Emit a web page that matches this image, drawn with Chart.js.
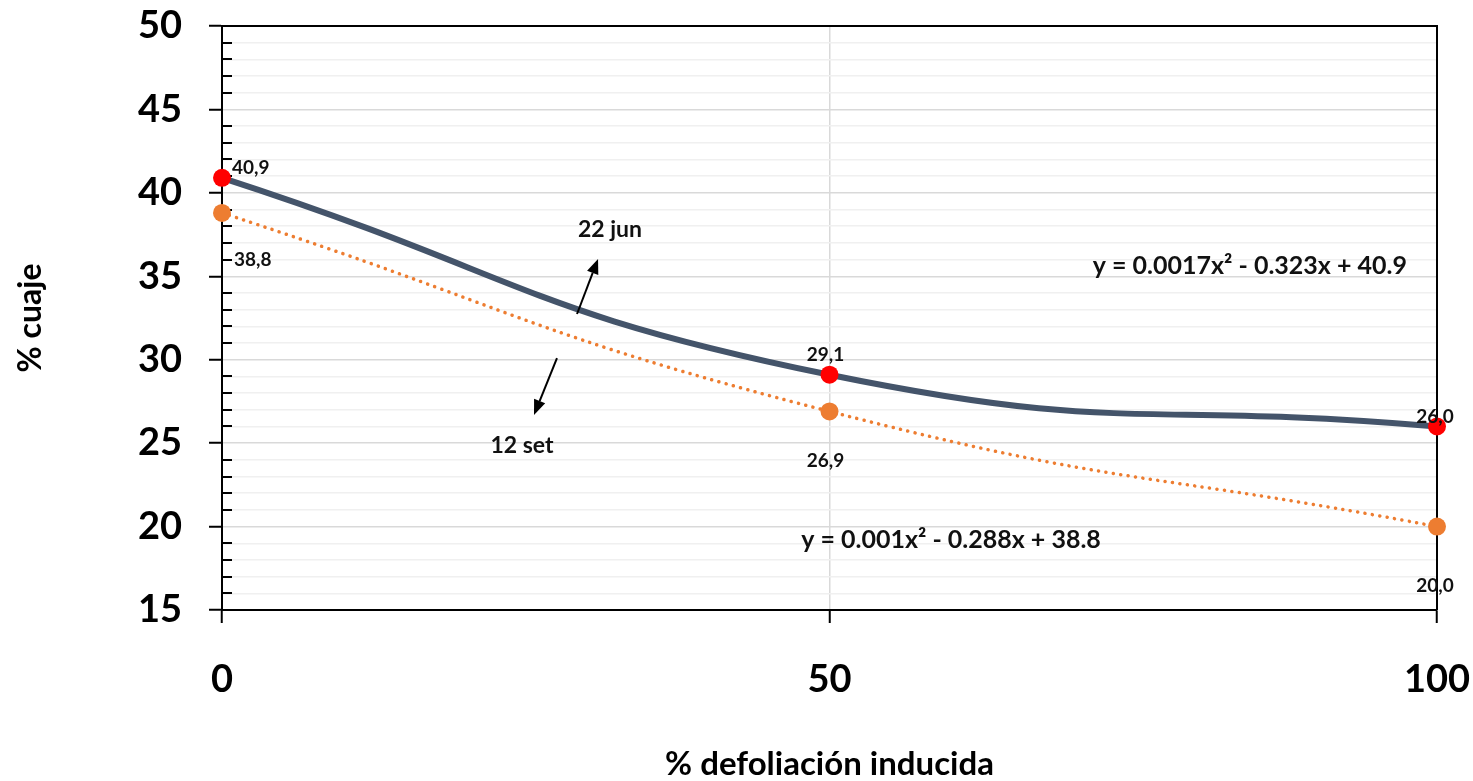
<!DOCTYPE html>
<html><head><meta charset="utf-8">
<script src="https://cdn.jsdelivr.net/npm/chart.js@4.4.1/dist/chart.umd.min.js"></script>
<style>html,body{margin:0;padding:0;background:#fff;} canvas{display:block;}</style>
</head><body>
<canvas id="c" width="1473" height="781"></canvas>
<script>
// ---- data ----
const defoliation = [0, 50, 100];
const cuaje22jun = [40.9, 29.1, 26.0];
const cuaje12set = [38.8, 26.9, 20.0];
const seriesNames = ['22 jun', '12 set'];
const equations = ['y = 0.0017x² - 0.323x + 40.9', 'y = 0.001x² - 0.288x + 38.8'];
const yTickLabels = ['15', '20', '25', '30', '35', '40', '45', '50'];
const xTickLabels = ['0', '50', '100'];
const xTitle = '% defoliación inducida';
const yTitle = '% cuaje';

// ---- styling / placement ----
const FONT = 'Lato, "Open Sans", sans-serif';
const labelPlacement = [
  [{dx: 10, dy: -10, align: 'left'}, {dx: -4, dy: -20, align: 'center'}, {dx: -2, dy: -10, align: 'center'}],
  [{dx: 12, dy: 47, align: 'left'}, {dx: -4, dy: 49, align: 'center'}, {dx: -2, dy: 59, align: 'center'}]
];
const notes = [
  {text: seriesNames[0], x: 31.93, y: 37.77, size: 23},
  {text: seriesNames[1], x: 24.69, y: 24.83, size: 23},
  {text: equations[0], x: 84.6, y: 35.62, size: 25},
  {text: equations[1], x: 60.0, y: 19.2, size: 25}
];
const arrows = [
  {x1: 29.22, y1: 32.74, x2: 30.95, y2: 36.04},
  {x1: 27.57, y1: 30.10, x2: 25.68, y2: 26.69}
];

const toPoints = ys => defoliation.map((x, i) => ({x: x, y: ys[i]}));
const fmt = v => v.toFixed(1).replace('.', ',');
const noPad = s => { s.paddingTop = 0; s.paddingBottom = 0; s.paddingLeft = 0; s.paddingRight = 0; };

const decor = {
  id: 'decor',
  beforeDatasetsDraw(chart) {
    const {ctx, chartArea: a, scales: {x, y}} = chart;
    ctx.save();
    ctx.strokeStyle = '#000';
    ctx.lineWidth = 2;
    for (let v = 16; v < 50; v++) {
      if (v % 5 === 0) continue;
      const py = Math.round(y.getPixelForValue(v));
      ctx.beginPath();
      ctx.moveTo(a.left, py);
      ctx.lineTo(a.left + 10, py);
      ctx.stroke();
    }
    ctx.beginPath();
    ctx.moveTo(a.left, a.top);
    ctx.lineTo(a.right, a.top);
    ctx.lineTo(a.right, a.bottom);
    ctx.stroke();
    ctx.restore();
  },
  afterDatasetsDraw(chart) {
    const {ctx, scales: {x, y}} = chart;
    ctx.save();
    ctx.fillStyle = '#111';
    ctx.textBaseline = 'middle';
    chart.data.datasets.forEach((ds, di) => {
      ctx.font = 'bold 19px ' + FONT;
      ds.data.forEach((p, i) => {
        const pl = labelPlacement[di][i];
        ctx.textAlign = pl.align;
        ctx.fillText(fmt(p.y), x.getPixelForValue(p.x) + pl.dx, y.getPixelForValue(p.y) + pl.dy);
      });
    });
    ctx.textAlign = 'center';
    notes.forEach(n => {
      ctx.font = 'bold ' + n.size + 'px ' + FONT;
      ctx.fillText(n.text, x.getPixelForValue(n.x), y.getPixelForValue(n.y));
    });
    ctx.strokeStyle = '#000';
    ctx.fillStyle = '#000';
    ctx.lineWidth = 2;
    arrows.forEach(ar => {
      const x1 = x.getPixelForValue(ar.x1), y1 = y.getPixelForValue(ar.y1);
      const x2 = x.getPixelForValue(ar.x2), y2 = y.getPixelForValue(ar.y2);
      const ang = Math.atan2(y2 - y1, x2 - x1);
      const L = 15, W = 6;
      const bx = x2 - L * Math.cos(ang), by = y2 - L * Math.sin(ang);
      ctx.beginPath();
      ctx.moveTo(x1, y1);
      ctx.lineTo(bx, by);
      ctx.stroke();
      ctx.beginPath();
      ctx.moveTo(x2, y2);
      ctx.lineTo(bx + W * Math.sin(ang), by - W * Math.cos(ang));
      ctx.lineTo(bx - W * Math.sin(ang), by + W * Math.cos(ang));
      ctx.closePath();
      ctx.fill();
    });
    ctx.restore();
  }
};

new Chart(document.getElementById('c'), {
  type: 'line',
  data: {
    datasets: [
      {
        label: seriesNames[0],
        data: toPoints(cuaje22jun),
        borderColor: '#44546a',
        borderWidth: 6,
        tension: 0.5,
        clip: false,
        pointRadius: 9,
        pointBackgroundColor: '#ff0000',
        pointBorderColor: '#ff0000',
        pointBorderWidth: 0
      },
      {
        label: seriesNames[1],
        data: toPoints(cuaje12set),
        borderColor: '#ed7d31',
        borderWidth: 3.5,
        borderDash: [0.1, 7.4],
        borderCapStyle: 'round',
        tension: 0.5,
        clip: false,
        pointRadius: 9,
        pointBackgroundColor: '#ed7d31',
        pointBorderColor: '#ed7d31',
        pointBorderWidth: 0
      }
    ]
  },
  options: {
    responsive: false,
    animation: false,
    layout: {padding: {top: 26, right: 36, bottom: 0, left: 0}},
    plugins: {legend: {display: false}, tooltip: {enabled: false}},
    scales: {
      x: {
        type: 'linear',
        min: 0, max: 100,
        afterFit: s => { s.height = 171; noPad(s); },
        ticks: {
          stepSize: 50,
          padding: 34,
          color: '#000',
          font: {family: FONT, size: 38, weight: 'bold'},
          callback: v => xTickLabels.includes(String(v)) ? String(v) : ''
        },
        grid: {
          color: c => (c.tick && c.tick.value === 50) ? '#d9d9d9' : 'rgba(0,0,0,0)',
          lineWidth: 1.5,
          tickColor: '#000',
          tickWidth: 2,
          tickLength: 13
        },
        border: {color: '#000', width: 2},
        title: {
          display: true, text: xTitle, color: '#000',
          font: {family: FONT, size: 33, weight: 'bold', lineHeight: 1},
          padding: {top: 0, bottom: 0}
        }
      },
      y: {
        min: 15, max: 50,
        afterFit: s => { s.width = 222; noPad(s); },
        ticks: {
          stepSize: 1,
          autoSkip: false,
          padding: 27,
          color: '#000',
          font: {family: FONT, size: 38, weight: 'bold'},
          callback: v => yTickLabels.includes(String(v)) ? String(v) : ''
        },
        grid: {
          color: c => (c.tick && c.tick.value % 5 === 0) ? '#d9d9d9' : '#f0f0f0',
          lineWidth: 1.5,
          tickColor: c => (c.tick && c.tick.value % 5 === 0) ? '#000' : 'rgba(0,0,0,0)',
          tickWidth: 2,
          tickLength: 13
        },
        border: {color: '#000', width: 2},
        title: {
          display: true, text: yTitle, color: '#000',
          font: {family: FONT, size: 32, weight: 'bold', lineHeight: 1},
          padding: {top: 15, bottom: 0}
        }
      }
    }
  },
  plugins: [decor]
});
</script>
</body></html>
